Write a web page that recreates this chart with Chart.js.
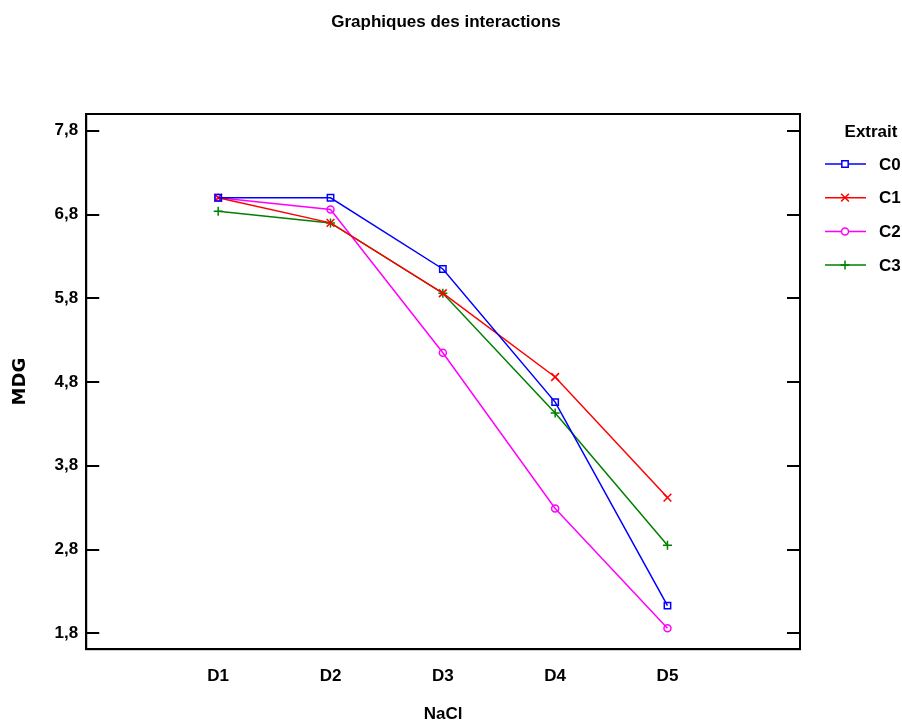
<!DOCTYPE html>
<html>
<head>
<meta charset="utf-8">
<script src="https://cdn.jsdelivr.net/npm/chart.js@4.4.0/dist/chart.umd.min.js"></script>
<style>
  html, body { margin: 0; padding: 0; background: #fff; }
  #wrap { width: 902px; height: 725px; }
</style>
</head>
<body>
<div id="wrap"><canvas id="chart" width="902" height="725"></canvas></div>
<script>
// NaCl levels on the x axis
const categories = ['D1', 'D2', 'D3', 'D4', 'D5'];
// MDG values per extract
const c0 = [7.00, 7.00, 6.15, 4.56, 2.13];
const c1 = [7.00, 6.70, 5.86, 4.86, 3.42];
const c2 = [7.00, 6.86, 5.15, 3.29, 1.86];
const c3 = [6.84, 6.70, 5.86, 4.43, 2.85];
const yTicks = [1.8, 2.8, 3.8, 4.8, 5.8, 6.8, 7.8];

const sans = "'Liberation Sans', Arial, sans-serif";

function series(label, values, color, pointStyle, radius) {
    return {
        label: label,
        data: values.map((v, i) => ({ x: i + 1, y: v })),
        borderColor: color,
        backgroundColor: 'rgba(0,0,0,0)',
        borderWidth: 1.5,
        pointStyle: pointStyle,
        pointRadius: radius,
        pointBorderWidth: 1.5,
        pointBorderColor: color,
        pointBackgroundColor: 'rgba(0,0,0,0)',
        tension: 0
    };
}

// title, frame, inner tick marks and the legend on the right
const framePlugin = {
    id: 'frame',
    afterDraw(chart) {
        const { ctx, chartArea: a, scales } = chart;
        ctx.save();
        ctx.fillStyle = '#000';
        ctx.font = 'bold 17px ' + sans;
        ctx.textBaseline = 'middle';
        ctx.textAlign = 'center';
        ctx.fillText('Graphiques des interactions', 446, 22);

        ctx.strokeStyle = '#000';
        ctx.lineWidth = 2;
        ctx.strokeRect(a.left, a.top, a.right - a.left, a.bottom - a.top);
        yTicks.forEach(t => {
            const y = Math.round(scales.y.getPixelForValue(t));
            ctx.beginPath();
            ctx.moveTo(a.left, y); ctx.lineTo(a.left + 13, y);
            ctx.moveTo(a.right, y); ctx.lineTo(a.right - 13, y);
            ctx.stroke();
        });

        // legend
        ctx.fillText('Extrait', 871, 132);
        ctx.textAlign = 'left';
        chart.data.datasets.forEach((ds, i) => {
            const y = 164 + i * 33.7;
            ctx.strokeStyle = ds.borderColor;
            ctx.lineWidth = 1.5;
            ctx.beginPath();
            ctx.moveTo(825, y); ctx.lineTo(866, y);
            ctx.stroke();
            ctx.fillStyle = '#fff';
            Chart.helpers.drawPoint(ctx, {
                pointStyle: ds.pointStyle, radius: ds.pointRadius, borderWidth: 1.5, rotation: 0
            }, 845, y);
            ctx.fillStyle = '#000';
            ctx.fillText(ds.label, 879, y + 1);
        });
        ctx.restore();
    }
};

new Chart(document.getElementById('chart'), {
    type: 'line',
    data: {
        datasets: [
            series('C0', c0, '#0000ff', 'rect', 4.5),
            series('C1', c1, '#ff0000', 'crossRot', 5.5),
            series('C2', c2, '#ff00ff', 'circle', 3.5),
            series('C3', c3, '#008000', 'cross', 4.5)
        ]
    },
    options: {
        responsive: false,
        animation: false,
        layout: { padding: { left: 0, right: 102, top: 114, bottom: 0 } },
        plugins: {
            legend: { display: false },
            tooltip: { enabled: false },
            title: { display: false }
        },
        scales: {
            x: {
                type: 'linear',
                min: -0.175,
                max: 6.18,
                afterBuildTicks: axis => { axis.ticks = categories.map((c, i) => ({ value: i + 1 })); },
                ticks: {
                    autoSkip: false,
                    maxRotation: 0,
                    color: '#000',
                    padding: 17,
                    font: { family: sans, size: 17, weight: 'bold' },
                    callback: v => categories[v - 1] || ''
                },
                grid: { display: false, drawTicks: false },
                border: { display: true, color: '#000', width: 2 },
                title: {
                    display: true,
                    text: 'NaCl',
                    color: '#000',
                    font: { family: sans, size: 17, weight: 'bold' },
                    padding: { top: 1, bottom: 0 }
                }
            },
            y: {
                min: 1.61,
                max: 8.0,
                afterBuildTicks: axis => { axis.ticks = yTicks.map(v => ({ value: v })); },
                ticks: {
                    color: '#000',
                    padding: 8,
                    font: { family: sans, size: 17, weight: 'bold' },
                    callback: v => v.toFixed(1).replace('.', ',')
                },
                grid: { display: false, drawTicks: false },
                border: { display: true, color: '#000', width: 2 },
                title: {
                    display: true,
                    text: 'MDG',
                    color: '#000',
                    font: { family: "'DejaVu Sans', sans-serif", size: 18, weight: 'bold' },
                    padding: { top: 10, bottom: 15 }
                }
            }
        }
    },
    plugins: [framePlugin]
});
</script>
</body>
</html>
